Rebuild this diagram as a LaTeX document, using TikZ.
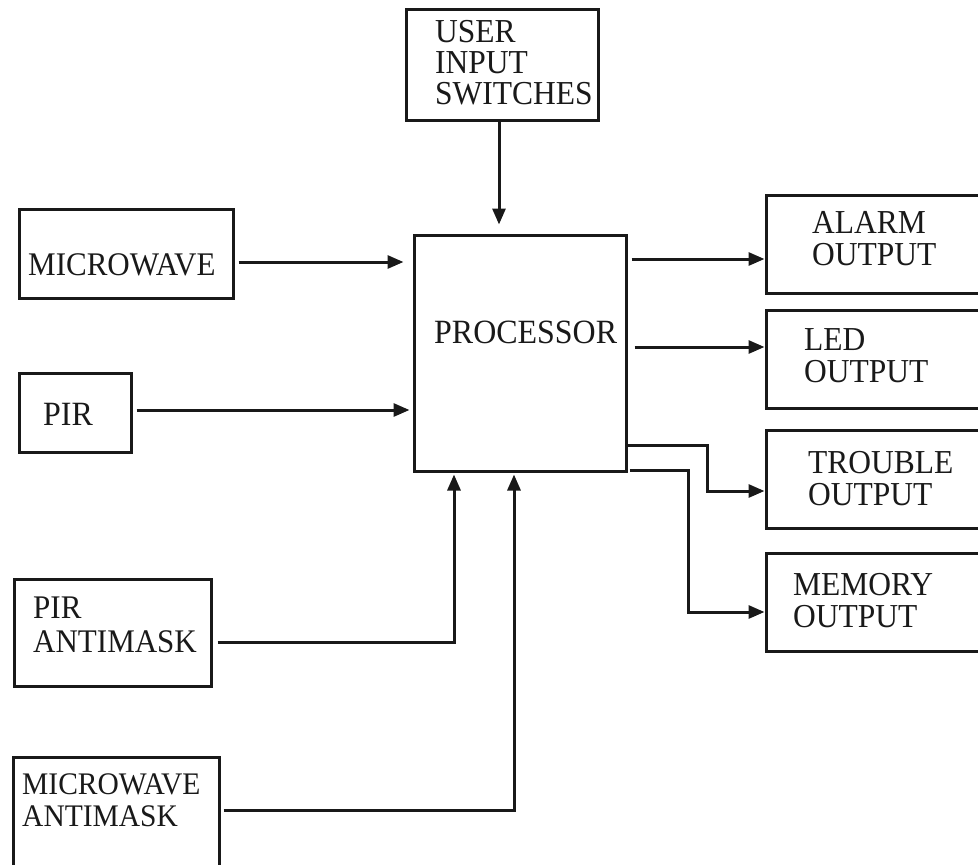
\documentclass[tikz,border=0pt]{standalone}
\usepackage{fontspec}
\setmainfont[FakeStretch=0.94]{Liberation Serif}
\usetikzlibrary{arrows.meta}
\begin{document}
\begin{tikzpicture}[x=1pt,y=-1pt,
  box/.style={draw=black!90, line width=3pt, inner sep=0pt},
  lbl/.style={inner sep=0pt, anchor=base west, align=left, font=\fontsize{33.5}{32}\selectfont, text=black!90},
  conn/.style={draw=black!90, line width=3pt},
  arr/.style={conn, -{Triangle[length=16pt,width=13pt]}}]
\useasboundingbox (0,0) rectangle (978,865);
% boxes
\node[box, minimum width=192pt, minimum height=111pt] (user) at (502,64.5) {};
\node[box, minimum width=212pt, minimum height=236pt] (proc) at (520,353) {};
\node[box, minimum width=214pt, minimum height=89pt] (mw) at (126,253.5) {};
\node[box, minimum width=112pt, minimum height=79pt] (pir) at (75,412.5) {};
\node[box, minimum width=197pt, minimum height=107pt] (pira) at (112.5,633) {};
\node[box, minimum width=206pt, minimum height=123pt] (mwa) at (116,818.5) {};
\node[box, minimum width=224pt, minimum height=98pt] (alarm) at (878,244) {};
\node[box, minimum width=224pt, minimum height=98pt] (led) at (878,359) {};
\node[box, minimum width=224pt, minimum height=98pt] (trouble) at (878,479) {};
\node[box, minimum width=224pt, minimum height=98pt] (memory) at (878,602) {};
% texts (anchor = baseline of last line)
\node[lbl, font=\fontsize{33.5}{31}\selectfont] (tuser) at (435,104) {USER\\INPUT\\SWITCHES};
\node[lbl, font=\fontsize{34}{32}\selectfont] (tproc) at (434,343) {PROCESSOR};
\node[lbl, font=\fontsize{33}{32}\selectfont] (tmw) at (28,275) {MICROWAVE};
\node[lbl, font=\fontsize{34}{32}\selectfont] (tpir) at (43,425) {PIR};
\node[lbl, font=\fontsize{33}{34}\selectfont] (tpira) at (33,652) {PIR\\ANTIMASK};
\node[lbl, font=\fontsize{31.4}{32}\selectfont] (tmwa) at (22,826) {MICROWAVE\\ANTIMASK};
\node[lbl] (talarm) at (812,265) {ALARM\\OUTPUT};
\node[lbl] (tled) at (804,382) {LED\\OUTPUT};
\node[lbl] (ttrouble) at (808,505) {TROUBLE\\OUTPUT};
\node[lbl] (tmemory) at (793,627) {MEMORY\\OUTPUT};
% connectors
\draw[arr, shorten >=9pt] ([xshift=-3pt]user.south) -- ([xshift=-3pt]user.south |- proc.north);
\draw[arr, shorten <=4pt, shorten >=9pt] ([yshift=-8.5pt]mw.east) -- ([yshift=-8.5pt]mw.east -| proc.west);
\draw[arr, shorten <=4pt, shorten >=3pt] ([yshift=2.5pt]pir.east) -- ([yshift=2.5pt]pir.east -| proc.west);
\draw[arr, shorten <=5pt, shorten >=2pt] ([yshift=-9pt]pira.east) -| ([xshift=-66pt]proc.south);
\draw[arr, shorten <=3pt, shorten >=2pt] ([yshift=8.5pt]mwa.east) -| ([xshift=-6pt]proc.south);
\draw[arr, shorten <=4pt] ([yshift=94pt]proc.east) -- ([yshift=94pt]proc.east -| alarm.west);
\draw[arr, shorten <=7pt] ([yshift=6pt]proc.east) -- ([yshift=6pt]proc.east -| led.west);
\draw[arr] ([yshift=-92pt]proc.east) -- ++(80pt,0) |- ([yshift=-12pt]trouble.west);
\draw[arr, shorten <=2pt] ([yshift=-117pt]proc.east) -- ++(61pt,0) |- ([yshift=-10pt]memory.west);
\end{tikzpicture}
\end{document}
